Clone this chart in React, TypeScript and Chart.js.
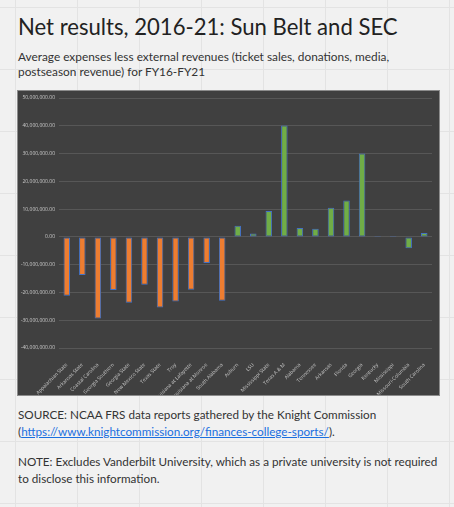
import React, { useEffect, useRef } from 'react';
import Chart from 'chart.js/auto';

// Sun Belt schools (orange) then SEC schools (green), net result in dollars
const sunBeltSchools = [
  'Appalachian State',
  'Arkansas State',
  'Coastal Carolina',
  'Georgia Southern',
  'Georgia State',
  'New Mexico State',
  'Texas State',
  'Troy',
  'Louisiana at Lafayette',
  'Louisiana at Monroe',
  'South Alabama',
];
const sunBeltNet = [
  -21200000, -13700000, -29400000, -19100000, -23700000, -17200000, -25400000, -23300000,
  -19000000, -9400000, -23000000,
];

const secSchools = [
  'Auburn',
  'LSU',
  'Mississippi State',
  'Texas A & M',
  'Alabama',
  'Tennessee',
  'Arkansas',
  'Florida',
  'Georgia',
  'Kentucky',
  'Mississippi',
  'Missouri-Columbia',
  'South Carolina',
];
const secNet = [
  4000000, 1250000, 9350000, 40100000, 3200000, 2900000, 10500000, 13100000, 30000000, 300000,
  300000, -4100000, 1400000,
];

const yMin = -40000000;
const yMax = 50000000;
const yStep = 10000000;

const SUN_BELT_COLOR = '#ED7D31';
const SEC_COLOR = '#70AD47';
const OUTLINE = '#4472C4';

const NetChart: React.FC = () => {
  const chartRef = useRef<HTMLCanvasElement | null>(null);

  useEffect(() => {
    const ctx = chartRef.current?.getContext('2d');
    if (!ctx) return;

    const labels = [...sunBeltSchools, ...secSchools];
    const values = [...sunBeltNet, ...secNet];
    const colors = [
      ...sunBeltSchools.map(() => SUN_BELT_COLOR),
      ...secSchools.map(() => SEC_COLOR),
    ];

    const chart = new Chart(ctx, {
      type: 'bar',
      data: {
        labels,
        datasets: [
          {
            data: values,
            backgroundColor: colors,
            borderColor: OUTLINE,
            borderWidth: 1,
            borderSkipped: false,
            barPercentage: 0.42,
            categoryPercentage: 1,
          },
        ],
      },
      options: {
        responsive: false,
        animation: false,
        layout: { padding: { top: 3, right: 7, left: 0, bottom: 0 } },
        plugins: {
          legend: { display: false },
          tooltip: { enabled: false },
        },
        scales: {
          x: {
            grid: { display: false },
            border: { display: false },
            ticks: {
              color: '#c8c8c8',
              font: { family: 'Open Sans', size: 5 },
              autoSkip: false,
              minRotation: 45,
              maxRotation: 45,
              padding: 6,
            },
            afterFit: (scale: any) => {
              scale.height = 47;
            },
          },
          y: {
            min: yMin,
            max: yMax,
            border: { display: false },
            grid: { color: '#575757', lineWidth: 1, drawTicks: false },
            ticks: {
              stepSize: yStep,
              color: '#c8c8c8',
              font: { family: 'Open Sans', size: 5 },
              padding: 4,
              callback: (v: any) =>
                Number(v).toLocaleString('en-US', {
                  minimumFractionDigits: 2,
                  maximumFractionDigits: 2,
                }),
            },
            afterFit: (scale: any) => {
              scale.width = 41;
            },
          },
        },
      },
    });

    return () => {
      chart.destroy();
    };
  }, []);

  return <canvas ref={chartRef} width={421} height={304} style={{ display: 'block' }} />;
};

const App: React.FC = () => {
  const text: React.CSSProperties = {
    position: 'absolute',
    left: 18,
    color: '#333',
    fontFamily: 'Lato, "Open Sans", sans-serif',
    fontSize: 11.7,
    lineHeight: '16.5px',
    margin: 0,
  };

  return (
    <div
      style={{
        position: 'relative',
        width: 454,
        height: 507,
        overflow: 'hidden',
        backgroundColor: '#f1f1f1',
        backgroundImage:
          'linear-gradient(to right, #e3e3e3 1px, transparent 1px), linear-gradient(to bottom, #e3e3e3 1px, transparent 1px)',
        backgroundSize: '62px 62px',
        backgroundPosition: '15px 7px',
      }}
    >
      <style>{'body{margin:0}'}</style>
      <div
        style={{
          ...text,
          top: 13,
          fontSize: 22.1,
          lineHeight: '28px',
          color: '#222',
          whiteSpace: 'nowrap',
        }}
      >
        Net results, 2016-21: Sun Belt and SEC
      </div>
      <div style={{ ...text, top: 49, width: 385, fontSize: 11.85, lineHeight: '15px' }}>
        Average expenses less external revenues (ticket sales, donations, media, postseason revenue)
        for FY16-FY21
      </div>
      <div
        style={{
          position: 'absolute',
          left: 17,
          top: 90,
          border: '1px solid #8c8c8c',
          background: '#404040',
        }}
      >
        <NetChart />
      </div>
      <div style={{ ...text, top: 406, width: 425 }}>
        SOURCE: NCAA FRS data reports gathered by the Knight Commission (
        <a href="https://www.knightcommission.org/finances-college-sports/" style={{ color: '#1a6fe0' }}>
          https://www.knightcommission.org/finances-college-sports/
        </a>
        ).
      </div>
      <div style={{ ...text, top: 453, width: 425 }}>
        NOTE: Excludes Vanderbilt University, which as a private university is not required to
        disclose this information.
      </div>
    </div>
  );
};

export default App;
